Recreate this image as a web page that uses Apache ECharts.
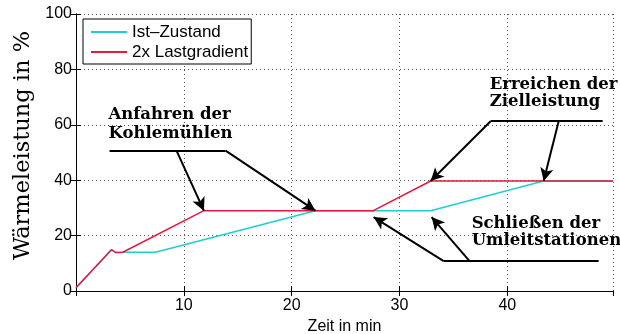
<!DOCTYPE html>
<html>
<head>
<meta charset="utf-8">
<script src="https://cdn.jsdelivr.net/npm/echarts@6/dist/echarts.min.js"></script>
<style>html,body{margin:0;padding:0;background:#fff;}#c{width:620px;height:334px;}</style>
</head>
<body>
<div id="c"></div>
<script>
// ---- data ----
const seriesNames = ['Ist\u2013Zustand', '2x Lastgradient'];
const timeCyan = [0, 3.29, 3.66, 4.34, 7.37, 22.2, 32.89, 43.37, 49.8];
const valCyan  = [1.2, 14.9, 13.9, 14.0, 14.0, 29.0, 29.0, 39.7, 39.7];
const timeRed  = [0, 3.29, 3.66, 4.34, 11.86, 27.57, 32.89, 49.8];
const valRed   = [1.2, 14.9, 13.9, 14.0, 29.0, 29.0, 39.7, 39.7];
const xTicks = [10, 20, 30, 40];
const yTicks = [0, 20, 40, 60, 80, 100];

// annotations (data coordinates)
const annoTexts = ['Anfahren der\nKohlem\u00fchlen', 'Erreichen der\nZielleistung', 'Schlie\u00dfen der\nUmleitstationen'];
const annoTextAt = [[3.01, 67.0], [38.36, 77.4], [36.69, 27.3]];
const annoLineHeights = [19, 17, 17];
const annoBars = [[[3.11, 50.7], [13.87, 50.7]], [[38.45, 61.3], [48.84, 61.3]], [[34.1, 10.8], [48.47, 10.8]]];
const annoArrows = [
  [[9.32, 50.7], [11.86, 29.0]],
  [[13.87, 50.7], [22.2, 29.0]],
  [[38.45, 61.3], [32.89, 39.7]],
  [[44.76, 61.3], [43.37, 39.7]],
  [[34.1, 10.8], [27.6, 26.7]],
  [[36.5, 10.8], [32.98, 26.7]]
];

const xMin = 0, xMax = 49.8;
const colors = ['#1fcfcf', '#e8173f'];

const zip = (xs, ys) => xs.map((x, i) => [x, ys[i]]);

const markLineData = [];
annoBars.forEach(b => markLineData.push([
  { coord: b[0], symbol: 'none' }, { coord: b[1], symbol: 'none' }
]));
annoArrows.forEach(a => markLineData.push([
  { coord: a[0], symbol: 'none' }, { coord: a[1], symbol: 'arrow', symbolSize: [10, 13] }
]));

const markPointData = annoTexts.map((t, i) => ({
  coord: annoTextAt[i],
  value: t,
  label: {
    show: true, formatter: t, position: [0, 0], align: 'left', verticalAlign: 'top',
    color: '#000', fontFamily: 'DejaVu Serif', fontWeight: 'bold', fontSize: 16.5,
    lineHeight: annoLineHeights[i]
  }
}));

const chart = echarts.init(document.getElementById('c'), null, { renderer: 'canvas' });
const axisLineStyle = { color: '#000', width: 1 };
const option = {
  backgroundColor: '#fff',
  animation: false,
  grid: { left: 76, right: 7, top: 14, bottom: 43, containLabel: false, outerBoundsMode: 'none' },
  legend: {
    data: seriesNames,
    orient: 'vertical',
    left: 83, top: 19,
    padding: [3, 3, 2, 8],
    itemGap: 0,
    itemWidth: 36, itemHeight: 2,
    icon: 'rect',
    backgroundColor: '#fff',
    borderColor: '#000', borderWidth: 1, borderRadius: 0,
    textStyle: { color: '#000', fontFamily: 'Liberation Sans', fontSize: 17, lineHeight: 20 },
    selectedMode: false
  },
  xAxis: [{
    type: 'value', min: xMin, max: xMax, interval: 10,
    name: 'Zeit in min', nameLocation: 'middle', nameGap: 26,
    nameTextStyle: { color: '#000', fontFamily: 'Liberation Sans', fontSize: 16 },
    axisLine: { show: true, lineStyle: axisLineStyle },
    axisTick: { show: true, inside: true, length: 5, lineStyle: axisLineStyle },
    axisLabel: {
      color: '#000', fontFamily: 'Liberation Sans', fontSize: 16, margin: 7,
      showMinLabel: false, showMaxLabel: false,
      formatter: v => (xTicks.indexOf(v) >= 0 ? String(v) : '')
    },
    splitLine: { show: true, lineStyle: { color: '#555', type: [1, 3], width: 1 } }
  }, {
    type: 'value', min: xMin, max: xMax, interval: 10, position: 'top',
    axisLine: { show: true, lineStyle: axisLineStyle },
    axisTick: { show: true, inside: true, length: 5, lineStyle: axisLineStyle },
    axisLabel: { show: false }, splitLine: { show: false }
  }],
  yAxis: [{
    type: 'value', min: 0, max: 100, interval: 20,
    name: 'W\u00e4rmeleistung in %', nameLocation: 'middle', nameGap: 38, nameRotate: 90,
    nameTextStyle: { color: '#000', fontFamily: 'DejaVu Serif', fontSize: 22.5, padding: [0, 0, 0, 14] },
    axisLine: { show: true, lineStyle: axisLineStyle },
    axisTick: { show: true, inside: true, length: 5, lineStyle: axisLineStyle },
    axisLabel: {
      color: '#000', fontFamily: 'Liberation Sans', fontSize: 16, margin: 4,
      formatter: v => (yTicks.indexOf(v) >= 0 ? String(v) : '')
    },
    splitLine: { show: true, lineStyle: { color: '#555', type: [1, 3], width: 1 } }
  }, {
    type: 'value', min: 0, max: 100, interval: 20, position: 'right',
    axisLine: { show: true, lineStyle: axisLineStyle },
    axisTick: { show: true, inside: true, length: 5, lineStyle: axisLineStyle },
    axisLabel: { show: false }, splitLine: { show: false }
  }],
  series: [{
    name: seriesNames[0], type: 'line', data: zip(timeCyan, valCyan),
    symbol: 'none', color: colors[0], lineStyle: { width: 1.5, color: colors[0] }, z: 3, silent: true
  }, {
    name: seriesNames[1], type: 'line', data: zip(timeRed, valRed),
    symbol: 'none', color: colors[1], lineStyle: { width: 1.5, color: colors[1] }, z: 4, silent: true
  }, {
    name: 'anno', type: 'line', data: [], z: 6, silent: true,
    markLine: {
      silent: true, symbol: ['none', 'none'], label: { show: false },
      lineStyle: { color: '#000', width: 2, type: 'solid' },
      itemStyle: { color: '#000' },
      emphasis: { disabled: true },
      animation: false,
      data: markLineData
    },
    markPoint: {
      silent: true, symbol: 'rect', symbolSize: 0,
      itemStyle: { color: 'rgba(0,0,0,0)' },
      animation: false,
      data: markPointData
    }
  }]
};
chart.setOption(option);
</script>
</body>
</html>
